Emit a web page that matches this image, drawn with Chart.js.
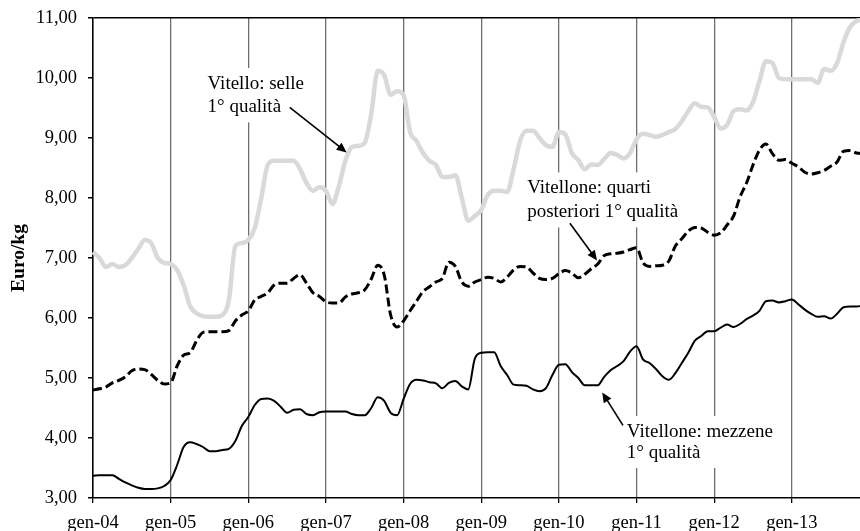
<!DOCTYPE html>
<html>
<head>
<meta charset="utf-8">
<script src="https://cdn.jsdelivr.net/npm/chart.js@4.4.1/dist/chart.umd.min.js"></script>
<style>
  body { margin: 0; overflow: hidden; background: #fff; }
  #wrap { width: 863px; height: 531px; }
</style>
</head>
<body>
<div id="wrap"><canvas id="myChart"></canvas></div>
<script>
var years = ['04', '05', '06', '07', '08', '09', '10', '11', '12', '13'];
var monthNames = ['gen', 'feb', 'mar', 'apr', 'mag', 'giu', 'lug', 'ago', 'set', 'ott', 'nov', 'dic'];
var yTicks = [3, 4, 5, 6, 7, 8, 9, 10, 11];

// Vitello: selle 1° qualità
var vitelloSelle = [
    7.10, 7.00, 6.85, 6.90, 6.85, 6.88, 7.00, 7.15, 7.30, 7.25, 7.00, 6.92,
    6.90, 6.80, 6.55, 6.20, 6.08, 6.03, 6.02, 6.02, 6.05, 6.30, 7.20, 7.25,
    7.30, 7.50, 8.00, 8.55, 8.62, 8.62, 8.62, 8.62, 8.48, 8.25, 8.12, 8.18,
    8.12, 7.90, 8.20, 8.62, 8.85, 8.87, 8.92, 9.40, 10.12, 10.05, 9.72, 9.78,
    9.72, 9.10, 8.95, 8.75, 8.62, 8.55, 8.35, 8.35, 8.38, 8.00, 7.62, 7.70,
    7.80, 8.05, 8.12, 8.12, 8.10, 8.48, 8.95, 9.12, 9.12, 9.00, 8.88, 8.85,
    9.10, 9.06, 8.75, 8.63, 8.48, 8.56, 8.55, 8.65, 8.75, 8.72, 8.66, 8.75,
    8.98, 9.07, 9.05, 9.02, 9.05, 9.10, 9.15, 9.28, 9.45, 9.58, 9.52, 9.51,
    9.35, 9.16, 9.22, 9.45, 9.48, 9.46, 9.60, 9.95, 10.28, 10.25, 10.00, 9.98,
    9.98, 9.98, 9.98, 9.98, 9.92, 10.15, 10.12, 10.25, 10.60, 10.85, 10.95, 10.98
];

// Vitellone: quarti posteriori 1° qualità
var vitelloneQuarti = [
    4.80, 4.82, 4.85, 4.92, 4.96, 5.02, 5.12, 5.15, 5.14, 5.06, 4.96, 4.90,
    4.92, 5.20, 5.38, 5.42, 5.62, 5.76, 5.77, 5.77, 5.77, 5.79, 5.95, 6.05,
    6.12, 6.30, 6.36, 6.42, 6.55, 6.58, 6.58, 6.66, 6.72, 6.58, 6.42, 6.36,
    6.27, 6.25, 6.25, 6.35, 6.40, 6.42, 6.47, 6.65, 6.88, 6.72, 6.05, 5.85,
    5.95, 6.12, 6.28, 6.44, 6.52, 6.60, 6.66, 6.93, 6.86, 6.60, 6.53, 6.60,
    6.64, 6.68, 6.66, 6.60, 6.68, 6.80, 6.86, 6.85, 6.75, 6.66, 6.64, 6.66,
    6.74, 6.79, 6.75, 6.67, 6.73, 6.82, 6.90, 7.04, 7.07, 7.08, 7.10, 7.14,
    7.17, 6.92, 6.86, 6.87, 6.88, 6.95, 7.20, 7.32, 7.45, 7.51, 7.50, 7.43,
    7.38, 7.42, 7.55, 7.70, 8.02, 8.25, 8.55, 8.80, 8.90, 8.74, 8.63, 8.64,
    8.58, 8.52, 8.43, 8.40, 8.42, 8.46, 8.53, 8.60, 8.78, 8.79, 8.75, 8.74
];

// Vitellone: mezzene 1° qualità
var vitelloneMezzene = [
    3.37, 3.38, 3.38, 3.38, 3.32, 3.26, 3.21, 3.17, 3.15, 3.15, 3.16, 3.20,
    3.30, 3.55, 3.85, 3.93, 3.90, 3.85, 3.78, 3.78, 3.80, 3.82, 3.95, 4.20,
    4.35, 4.55, 4.65, 4.66, 4.62, 4.52, 4.42, 4.47, 4.48, 4.40, 4.38, 4.43,
    4.44, 4.44, 4.44, 4.44, 4.40, 4.38, 4.38, 4.50, 4.68, 4.62, 4.42, 4.38,
    4.65, 4.90, 4.97, 4.96, 4.93, 4.91, 4.83, 4.92, 4.95, 4.86, 4.81, 5.32,
    5.42, 5.43, 5.43, 5.20, 5.05, 4.89, 4.88, 4.87, 4.81, 4.78, 4.83, 5.05,
    5.22, 5.23, 5.10, 5.00, 4.88, 4.88, 4.88, 5.02, 5.13, 5.20, 5.28, 5.44,
    5.53, 5.31, 5.25, 5.15, 5.03, 4.97, 5.08, 5.25, 5.42, 5.62, 5.70, 5.78,
    5.78, 5.84, 5.89, 5.85, 5.90, 5.98, 6.04, 6.12, 6.28, 6.29, 6.26, 6.28,
    6.31, 6.23, 6.14, 6.07, 6.02, 6.03, 5.99, 6.07, 6.18, 6.19, 6.19, 6.21
];

var labels = [];
years.forEach(function (y) {
    monthNames.forEach(function (m) {
        labels.push(m + '-' + y);
    });
});

// callout texts, placed in data units (month index, Euro/kg)
var notes = [
    { lines: [['Vitello: selle', 17.7, 9.90], ['1° qualità', 17.7, 9.51]], from: [30.4, 9.51], to: [39.2, 8.76] },
    { lines: [['Vitellone: quarti', 67.1, 8.16], ['posteriori 1° qualità', 67.1, 7.76]], from: [73.7, 7.58], to: [77.9, 6.96] },
    { lines: [['Vitellone: mezzene', 82.5, 4.10], ['1° qualità', 82.5, 3.75]], from: [81.9, 4.21], to: [78.7, 4.76] }
];

var serif = "'Liberation Serif', 'Times New Roman', serif";
var noteFont = '19px ' + serif;

function formatComma(v) {
    return v.toFixed(2).replace('.', ',');
}

function drawArrow(ctx, x1, y1, x2, y2) {
    var ang = Math.atan2(y2 - y1, x2 - x1);
    var len = 10, half = 4.5;
    ctx.beginPath();
    ctx.moveTo(x1, y1);
    ctx.lineTo(x2 - Math.cos(ang) * len * 0.8, y2 - Math.sin(ang) * len * 0.8);
    ctx.stroke();
    ctx.beginPath();
    ctx.moveTo(x2, y2);
    ctx.lineTo(x2 - Math.cos(ang) * len - Math.sin(ang) * half, y2 - Math.sin(ang) * len + Math.cos(ang) * half);
    ctx.lineTo(x2 - Math.cos(ang) * len + Math.sin(ang) * half, y2 - Math.sin(ang) * len - Math.cos(ang) * half);
    ctx.closePath();
    ctx.fill();
}

var calloutPlugin = {
    id: 'callouts',
    beforeDatasetsDraw: function (chart) {
        var ctx = chart.ctx, xs = chart.scales.x, ys = chart.scales.y;
        ctx.save();
        ctx.font = noteFont;
        ctx.fillStyle = '#fff';
        notes.forEach(function (n) {
            var left = xs.getPixelForValue(n.lines[0][1]);
            var w = 0;
            n.lines.forEach(function (l) { w = Math.max(w, ctx.measureText(l[0]).width); });
            var top = ys.getPixelForValue(n.lines[0][2]) - 16;
            var bottom = ys.getPixelForValue(n.lines[n.lines.length - 1][2]) + 15;
            ctx.fillRect(left - 5, top, w + 10, bottom - top);
        });
        ctx.restore();
    },
    afterDatasetsDraw: function (chart) {
        var ctx = chart.ctx, xs = chart.scales.x, ys = chart.scales.y;
        ctx.save();
        ctx.font = noteFont;
        ctx.fillStyle = '#000';
        ctx.strokeStyle = '#000';
        ctx.lineWidth = 1.6;
        ctx.textAlign = 'left';
        ctx.textBaseline = 'middle';
        notes.forEach(function (n) {
            n.lines.forEach(function (l) {
                ctx.fillText(l[0], xs.getPixelForValue(l[1]), ys.getPixelForValue(l[2]));
            });
            drawArrow(ctx,
                xs.getPixelForValue(n.from[0]), ys.getPixelForValue(n.from[1]),
                xs.getPixelForValue(n.to[0]), ys.getPixelForValue(n.to[1]));
        });
        ctx.restore();
    }
};

var ctx = document.getElementById('myChart').getContext('2d');
var myChart = new Chart(ctx, {
    type: 'line',
    data: {
        labels: labels,
        datasets: [{
            label: 'Vitello: selle 1° qualità',
            data: vitelloSelle,
            borderColor: '#d9d9d9',
            borderWidth: 4.5,
            pointRadius: 0,
            cubicInterpolationMode: 'monotone'
        }, {
            label: 'Vitellone: quarti posteriori 1° qualità',
            data: vitelloneQuarti,
            borderColor: '#000',
            borderWidth: 3,
            borderDash: [9, 4],
            pointRadius: 0,
            cubicInterpolationMode: 'monotone'
        }, {
            label: 'Vitellone: mezzene 1° qualità',
            data: vitelloneMezzene,
            borderColor: '#000',
            borderWidth: 2,
            pointRadius: 0,
            cubicInterpolationMode: 'monotone'
        }]
    },
    options: {
        responsive: true,
        maintainAspectRatio: false,
        animation: false,
        layout: { padding: { top: 18, right: 0, left: 0, bottom: 0 } },
        plugins: {
            legend: { display: false },
            tooltip: { enabled: false }
        },
        scales: {
            x: {
                type: 'category',
                afterFit: function (scale) {
                    scale.height = 33;
                    scale.paddingLeft = 0;
                    scale.paddingRight = 0;
                },
                border: { color: '#000', width: 1.5 },
                grid: {
                    color: function (c) { return c.index % 12 === 0 ? '#6e6e6e' : 'rgba(0,0,0,0)'; },
                    tickColor: function (c) { return c.index % 12 === 0 ? '#000' : 'rgba(0,0,0,0)'; },
                    lineWidth: 1.3,
                    tickLength: 5
                },
                ticks: {
                    autoSkip: false,
                    maxRotation: 0,
                    minRotation: 0,
                    padding: 9,
                    color: '#000',
                    font: { family: serif, size: 18.5 },
                    callback: function (v, i) { return i % 12 === 0 ? labels[i] : ''; }
                }
            },
            y: {
                min: yTicks[0],
                max: yTicks[yTicks.length - 1],
                afterFit: function (scale) {
                    scale.width = 93;
                    scale.paddingTop = 0;
                    scale.paddingBottom = 0;
                },
                afterBuildTicks: function (scale) {
                    scale.ticks = yTicks.map(function (v) { return { value: v }; });
                },
                border: { color: '#000', width: 1.5 },
                grid: {
                    color: function (c) { return c.tick && c.tick.value === 11 ? '#000' : 'rgba(0,0,0,0)'; },
                    tickColor: '#000',
                    lineWidth: 1.5,
                    tickLength: 5
                },
                ticks: {
                    padding: 11,
                    color: '#000',
                    font: { family: serif, size: 18.5 },
                    callback: function (v) { return formatComma(v); }
                },
                title: {
                    display: true,
                    text: 'Euro/kg',
                    color: '#000',
                    font: { family: serif, size: 19.5, weight: 'bold' },
                    padding: { top: 7, bottom: 0 }
                }
            }
        }
    },
    plugins: [calloutPlugin]
});
</script>
</body>
</html>
